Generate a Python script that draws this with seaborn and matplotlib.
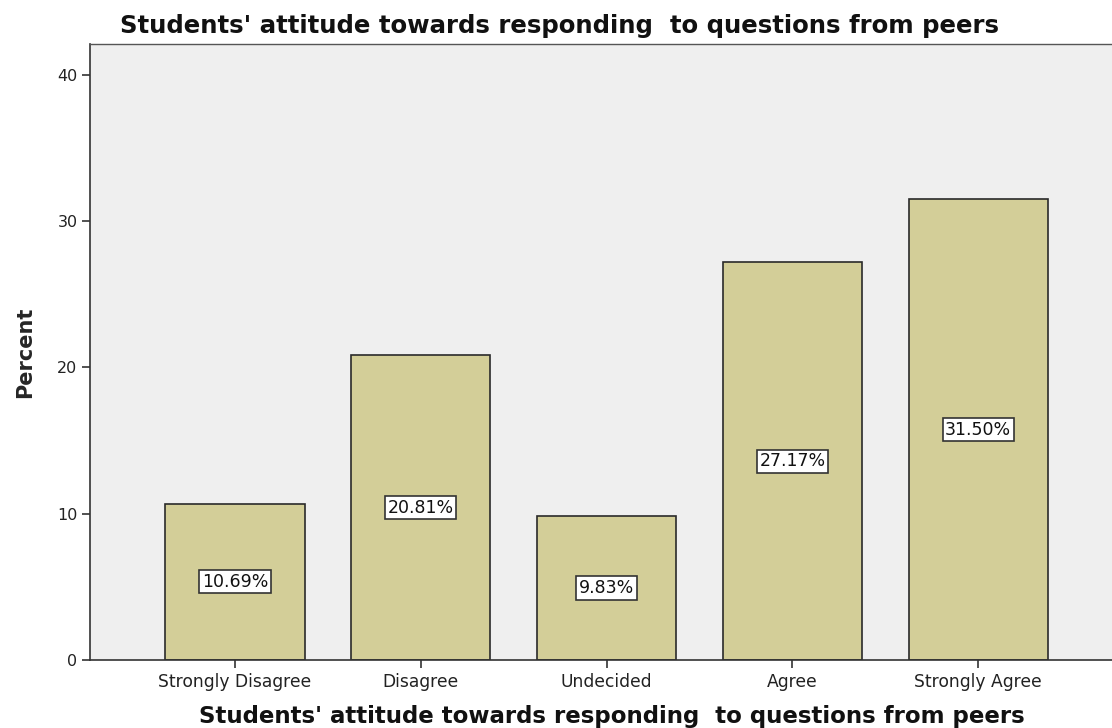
import matplotlib
matplotlib.use("Agg")
import matplotlib.pyplot as plt
import seaborn as sns
import pandas as pd

categories = ["Strongly Disagree", "Disagree", "Undecided", "Agree", "Strongly Agree"]
percent = [10.69, 20.81, 9.83, 27.17, 31.50]
yticks = [0, 10, 20, 30, 40]
title = "Students' attitude towards responding  to questions from peers"

sns.set_theme(style="white")
plt.rcParams['font.family'] = ['DejaVu Sans']

df = pd.DataFrame({"cat": categories, "pct": percent})

fig = plt.figure(figsize=(11.12, 7.28), dpi=100)
ax = fig.add_axes([0.0809, 0.0934, 0.9191, 0.8462])
ax.set_facecolor("#EFEFEF")
sns.barplot(data=df, x="cat", y="pct", order=categories, color="#D3CE98",
            width=0.75, edgecolor="#2a2a2a", linewidth=1.2, saturation=1, ax=ax)

for i, v in enumerate(percent):
    ax.text(i, v / 2, f"{v:.2f}%", ha="center", va="center", fontsize=12.5,
            color="#111111",
            bbox=dict(boxstyle="square,pad=0.15", facecolor="white",
                      edgecolor="#333333", linewidth=1.2))

ax.set_xlim(-0.78, 4.72)
ax.set_ylim(0, 42.1)
ax.set_yticks(yticks)
ax.set_yticklabels([str(t) for t in yticks], fontsize=11.5, color="#222222")
ax.set_xticks(range(len(categories)))
ax.set_xticklabels(categories, fontsize=12.3, color="#222222")
ax.tick_params(axis="both", direction="out", length=6, width=1.2, color="#333333",
               bottom=True, left=True, pad=3)
for s in ["top", "right"]:
    ax.spines[s].set_visible(False)
for s in ["left", "bottom"]:
    ax.spines[s].set_color("#333333")
    ax.spines[s].set_linewidth(1.2)
ax.spines["top"].set_visible(True)
ax.spines["top"].set_color("#555555")
ax.spines["top"].set_linewidth(1.0)

ax.set_xlabel("")
ax.set_ylabel("Percent", fontsize=15, fontweight="bold", labelpad=16)
fig.text(0.503, 0.9547, title, ha="center", va="baseline", fontsize=17.6,
         fontweight="bold", color="#111111")
fig.text(0.550, 0.0069, title, ha="center", va="baseline", fontsize=16.5,
         fontweight="bold", color="#111111")

fig.savefig("out.png", dpi=100)
